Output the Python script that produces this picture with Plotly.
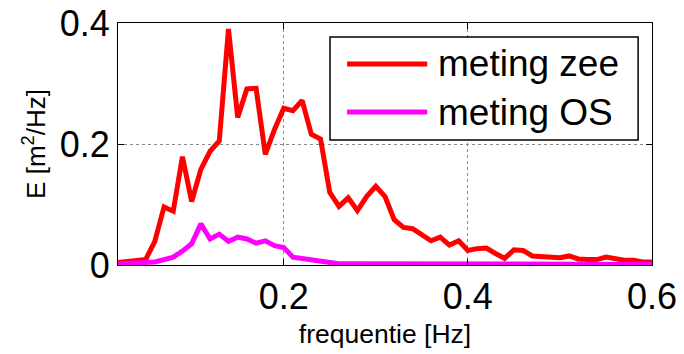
import plotly.graph_objects as go

freq = [0.02, 0.03, 0.04, 0.05, 0.06, 0.07, 0.08, 0.09, 0.10, 0.11,
        0.12, 0.13, 0.14, 0.15, 0.16, 0.17, 0.18, 0.19, 0.20, 0.21,
        0.22, 0.23, 0.24, 0.25, 0.26, 0.27, 0.28, 0.29, 0.30, 0.31,
        0.32, 0.33, 0.34, 0.35, 0.36, 0.37, 0.38, 0.39, 0.40, 0.41,
        0.42, 0.43, 0.44, 0.45, 0.46, 0.47, 0.48, 0.49, 0.50, 0.51,
        0.52, 0.53, 0.54, 0.55, 0.56, 0.57, 0.58, 0.59, 0.60]

meting_zee = [0.004, 0.006, 0.008, 0.009, 0.039, 0.096, 0.089, 0.179, 0.105, 0.158,
              0.188, 0.205, 0.390, 0.244, 0.291, 0.292, 0.183, 0.224, 0.259, 0.255,
              0.272, 0.216, 0.208, 0.120, 0.097, 0.111, 0.090, 0.113, 0.130, 0.113,
              0.075, 0.062, 0.060, 0.050, 0.040, 0.046, 0.033, 0.040, 0.024, 0.027,
              0.028, 0.019, 0.011, 0.025, 0.024, 0.015, 0.014, 0.015, 0.012, 0.015,
              0.010, 0.009, 0.009, 0.013, 0.010, 0.008, 0.008, 0.005, 0.005]

meting_os = [0.002, 0.003, 0.003, 0.003, 0.005, 0.009, 0.013, 0.023, 0.035, 0.068,
             0.043, 0.051, 0.039, 0.046, 0.043, 0.036, 0.040, 0.032, 0.029, 0.013,
             0.011, 0.008, 0.005, 0.003, 0.002, 0.002, 0.002, 0.002, 0.002, 0.002,
             0.002, 0.002, 0.002, 0.002, 0.002, 0.002, 0.002, 0.002, 0.002, 0.002,
             0.001, 0.001, 0.001, 0.001, 0.001, 0.001, 0.001, 0.001, 0.001, 0.001,
             0.001, 0.001, 0.001, 0.001, 0.001, 0.001, 0.001, 0.001, 0.001]

series_names = ["meting zee", "meting OS"]
series_colors = ["#ff0000", "#ff00ff"]

x_tickvals = [0.2, 0.4, 0.6]
x_ticktext = ["0.2", "0.4", "0.6"]
y_tickvals = [0, 0.2, 0.4]
y_ticktext = ["0", "0.2", "0.4"]

FONT = "Liberation Sans, Arial, sans-serif"

fig = go.Figure()
for name, ys, col in zip(series_names, [meting_zee, meting_os], series_colors):
    fig.add_trace(go.Scatter(x=freq, y=ys, mode="lines", name=name,
                             line=dict(color=col, width=5), showlegend=False))

axis_common = dict(
    showline=True, linecolor="black", linewidth=1, mirror="ticks",
    ticks="inside", ticklen=6, tickcolor="black", tickwidth=1,
    showgrid=True, gridcolor="#8a8a8a", griddash="dot", gridwidth=1,
    zeroline=False, tickfont=dict(family=FONT, size=36, color="black"),
)

fig.update_xaxes(range=[0.02, 0.6], tickvals=x_tickvals, ticktext=x_ticktext,
                 title=dict(text="frequentie [Hz]", font=dict(family=FONT, size=26.5, color="black"), standoff=8),
                 **axis_common)
fig.update_yaxes(range=[0, 0.4], tickvals=y_tickvals, ticktext=y_ticktext,
                 title=dict(text="E [m<sup>2</sup>/Hz]", font=dict(family=FONT, size=26, color="black"), standoff=6),
                 **axis_common)

# legend drawn as shapes + text
fig.add_shape(type="rect", xref="paper", yref="paper", x0=0.397, x1=0.974, y0=0.517, y1=0.942,
              line=dict(color="black", width=1.5), fillcolor="white", layer="above")
leg_y = [0.831, 0.632]
for name, col, yy in zip(series_names, series_colors, leg_y):
    fig.add_shape(type="line", xref="paper", yref="paper", x0=0.429, x1=0.579, y0=yy, y1=yy,
                  line=dict(color=col, width=5), layer="above")
    fig.add_annotation(xref="paper", yref="paper", x=0.595, y=yy, text=name, showarrow=False,
                       xanchor="left", yanchor="middle",
                       font=dict(family=FONT, size=37, color="black"))

fig.update_layout(
    width=684, height=354,
    margin=dict(l=118, r=32, t=23, b=89, autoexpand=False),
    paper_bgcolor="white", plot_bgcolor="white",
    font=dict(family=FONT, color="black"),
)

fig.write_html("out.html")
